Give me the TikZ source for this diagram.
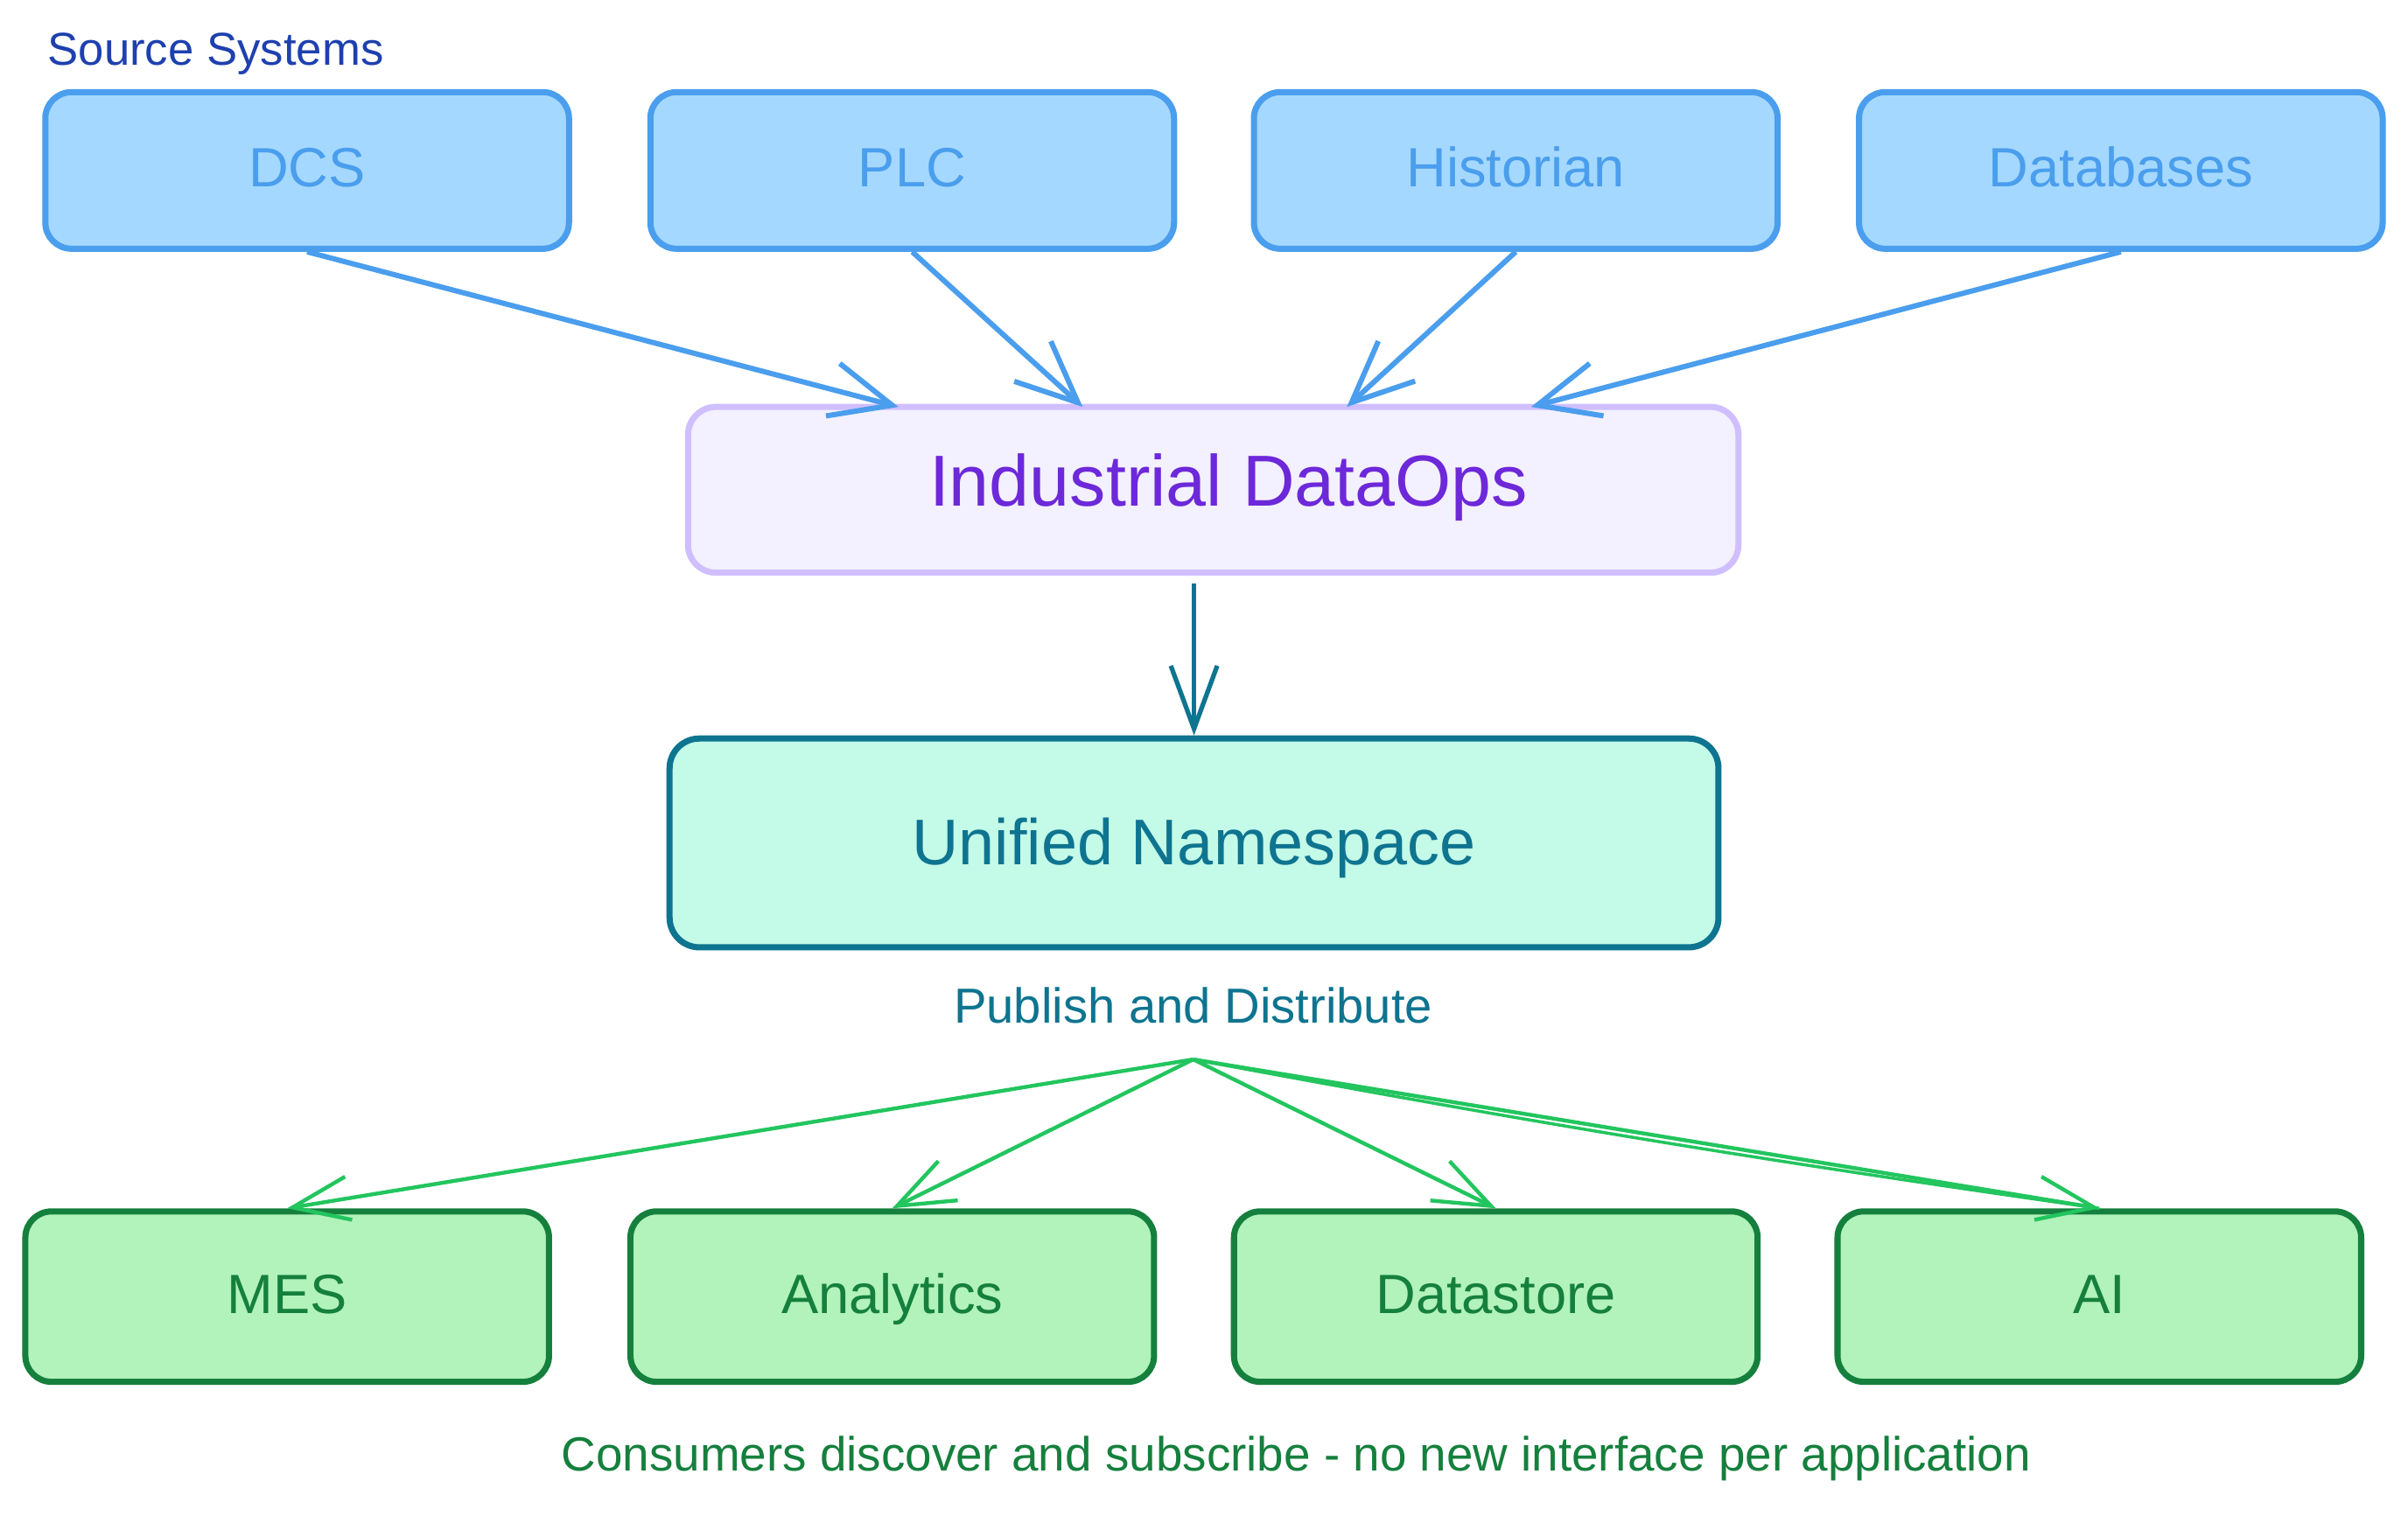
\documentclass[tikz,border=0pt]{standalone}
\usepackage{fontspec}
\setmainfont{Liberation Sans}
\usetikzlibrary{arrows.meta,calc}
\definecolor{srcblue}{HTML}{1E40AF}
\definecolor{bstroke}{HTML}{4A9EED}
\definecolor{bfill}{HTML}{A5D8FF}
\definecolor{pfill}{HTML}{F3F0FF}
\definecolor{pstroke}{HTML}{D0BFFF}
\definecolor{ptext}{HTML}{6D28D9}
\definecolor{teal}{HTML}{0E7490}
\definecolor{tfill}{HTML}{C3FAE8}
\definecolor{garrow}{HTML}{22C55E}
\definecolor{gfill}{HTML}{B2F2BB}
\definecolor{gdark}{HTML}{15803D}
\newdimen\un \un=0.017551cm
\tikzset{
  srcbox/.style={draw=bstroke, fill=bfill, text=bstroke, line width=2pt, rounded corners=0.3cm,
    minimum width=341*\un, minimum height=102*\un, font=\fontsize{18}{21}\selectfont,
    text height=13pt, text depth=2.1pt},
  opsbox/.style={draw=pstroke, fill=pfill, text=ptext, line width=2pt, rounded corners=0.32cm,
    minimum width=684*\un, minimum height=108*\un, font=\fontsize{23.5}{27}\selectfont,
    text height=16.9pt, text depth=6.1pt},
  unsbox/.style={draw=teal, fill=tfill, text=teal, line width=2pt, rounded corners=0.34cm,
    minimum width=683*\un, minimum height=136*\un, font=\fontsize{21}{25}\selectfont,
    text height=15.1pt, text depth=1.1pt},
  conbox/.style={draw=gdark, fill=gfill, text=gdark, line width=2pt, rounded corners=0.3cm,
    minimum width=341*\un, minimum height=111*\un, font=\fontsize{18}{21}\selectfont,
    text height=13pt, text depth=2.1pt},
  bluearrow/.style={draw=bstroke, line width=1.7pt, -{Straight Barb[length=0.7cm,width=0.62cm]}},
  tealarrow/.style={draw=teal, line width=1.5pt, -{Straight Barb[length=0.72cm,width=0.53cm]}},
  greenarrow/.style={draw=garrow, line width=1.25pt, -{Straight Barb[length=0.65cm,width=0.5cm]}},
  greensketch/.style={draw=garrow, line width=1pt},
}
\begin{document}
\begin{tikzpicture}[x=\un, y=-\un]
\useasboundingbox (0,0) rectangle (1568,987);
\fill[white] (0,0) rectangle (1568,987);
\node[anchor=west, text=srcblue, font=\fontsize{15}{18}\selectfont] (srclbl) at (24,35) {Source Systems};
\node[srcbox] (dcs) at (200,111) {DCS};
\node[srcbox] (plc) at (594,111) {PLC};
\node[srcbox] (hist) at (987,111) {Historian};
\node[srcbox] (db) at (1381,111) {Databases};
\node[opsbox] (ido) at (790,319) {\hspace*{20\un}Industrial DataOps};
\node[unsbox] (uns) at (777.5,549) {Unified Namespace};
\node[text=teal, font=\fontsize{16}{19}\selectfont] (pub) at (777,655) {Publish and Distribute};
\coordinate (fan) at (777,690);
\node[conbox] (mes) at (187,844.5) {MES};
\node[conbox] (ana) at (581,844.5) {Analytics};
\node[conbox] (dst) at (974,844.5) {Datastore};
\node[conbox] (ai) at (1367,844.5) {AI};
\node[text=gdark, font=\fontsize{15.6}{18}\selectfont] (cap) at (844,950) {Consumers discover and subscribe - no new interface per application};
\coordinate (t1) at (585,265);
\coordinate (t2) at (705,265);
\coordinate (t3) at (877,265);
\coordinate (t4) at (997,265);
\draw[bluearrow] (dcs.south) -- (t1);
\draw[bluearrow] (plc.south) -- (t2);
\draw[bluearrow] (hist.south) -- (t3);
\draw[bluearrow] (db.south) -- (t4);
\draw[tealarrow] ([yshift=-5*\un]ido.south -| uns.north) -- (uns.north);
\draw[greenarrow] (fan) -- (mes.north);
\draw[greenarrow] (fan) -- (ana.north);
\draw[greenarrow] (fan) -- (dst.north);
\draw[greenarrow] (fan) -- (ai.north);
\draw[greensketch] (fan) to[bend right=1.2] (ai.north);
\end{tikzpicture}
\end{document}
